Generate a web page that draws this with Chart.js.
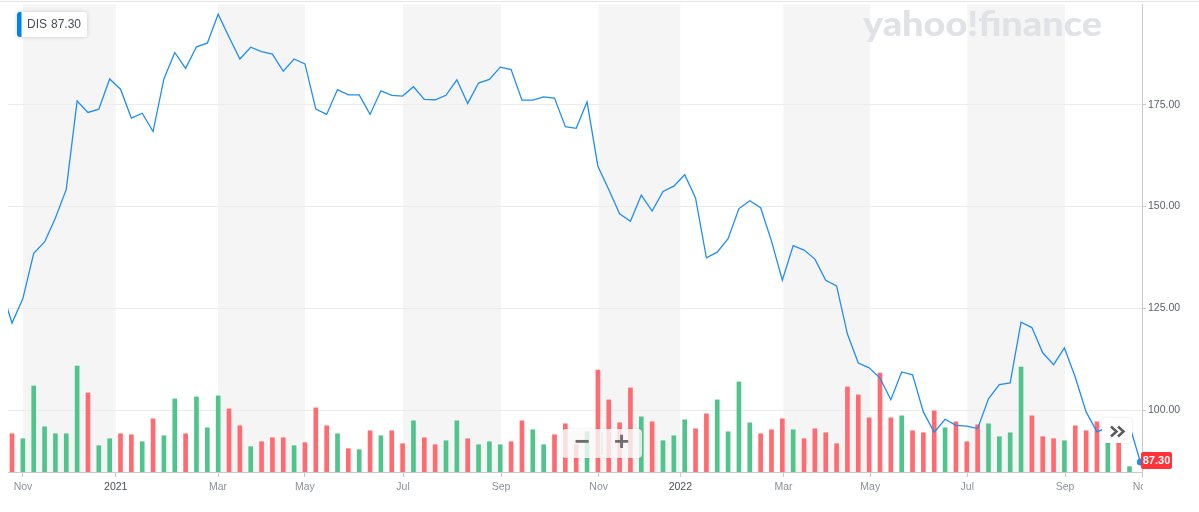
<!DOCTYPE html>
<html lang="en">
<head>
<meta charset="UTF-8">
<title>DIS weekly</title>
<script src="https://cdn.jsdelivr.net/npm/chart.js@4.4.1/dist/chart.umd.min.js"></script>
<style>
  body { margin: 0; background: #fff; }
  #chart { display: block; }
</style>
</head>
<body>
<canvas id="chart" width="1199" height="512"></canvas>
<script>
// weekly closes, Oct 2020 -> Oct 2022 (one point per week)
const closes = [
  129.9, 121.4, 127.4, 138.5, 141.3, 147.2, 154.2, 175.9, 173.1, 173.9,
  181.3, 178.8, 171.7, 172.9, 168.4, 181.3, 187.8, 183.9, 189.2, 190.1,
  197.2, 191.6, 186.2, 189.1, 188.0, 187.4, 183.2, 186.2, 185.0, 173.9,
  172.6, 178.7, 177.4, 177.4, 172.6, 178.4, 177.3, 177.1, 179.4, 176.3,
  176.2, 177.3, 181.1, 175.3, 180.3, 181.2, 184.2, 183.6, 176.1, 176.1,
  176.9, 176.6, 169.6, 169.2, 175.7, 159.9, 154.2, 148.2, 146.4, 152.8,
  148.9, 153.7, 155.0, 157.8, 152.1, 137.4, 138.8, 142.1, 149.5, 151.4,
  149.7, 141.5, 131.9, 140.4, 139.3, 137.1, 131.9, 130.5, 118.7, 111.6,
  110.4, 107.9, 102.6, 109.4, 108.7, 99.6, 94.6, 97.8, 96.3, 96.1,
  95.5, 102.8, 106.3, 106.7, 121.6, 120.3, 114.1, 111.2, 115.3, 108.1,
  99.6, 94.7, 95.8, 96.3, 96.3, 87.3
];
// weekly volume, millions
const volumes = [
  15.0, 19.2, 16.7, 43.2, 22.7, 19.2, 19.2, 53.2, 39.7, 13.2,
  16.7, 19.2, 18.7, 15.2, 26.7, 18.2, 36.7, 19.2, 37.7, 22.2,
  38.2, 31.7, 23.2, 12.7, 15.2, 17.2, 17.2, 13.2, 14.7, 32.2,
  23.2, 19.2, 11.7, 11.2, 20.7, 18.2, 20.7, 14.2, 25.7, 17.2,
  13.7, 15.7, 25.7, 16.7, 13.7, 15.2, 13.7, 15.2, 25.7, 21.2,
  13.7, 18.7, 24.2, 14.0, 20.2, 51.2, 36.2, 24.7, 42.2, 27.7,
  25.2, 15.7, 18.2, 26.2, 21.7, 29.2, 36.2, 20.2, 45.2, 24.7,
  19.2, 21.2, 26.7, 21.2, 16.7, 21.7, 19.7, 14.2, 42.7, 38.7,
  27.2, 49.7, 27.2, 28.2, 20.7, 19.7, 30.7, 22.2, 25.2, 15.2,
  23.7, 24.2, 17.7, 19.7, 52.7, 28.2, 17.7, 16.7, 15.7, 23.2,
  20.7, 25.2, 16.0, 15.5, 2.7, null
];
// u = up week (green), d = down week (red)
const volDir = ("d" + "duuuuuuduu" + "dduduuduuu" + "dduddduddd" + "udududdudd" +
  "uuduuudduu" + "ddduddddud" + "uuudduuuud" + "dduddddddd" + "dduddduddd" +
  "uuuudddudd" + "dudud").split("");

// month ticks, in week positions
const monthTicks  = [2.01, 10.56, 19.99, 28.0, 37.04, 46.07, 55.07, 62.6, 72.1, 80.1, 89.05, 98.06, 105.15];
const monthLabels = ["Nov", "2021", "Mar", "May", "Jul", "Sep", "Nov", "2022", "Mar", "May", "Jul", "Sep", "Nov"];
const priceTicks  = [100, 125, 150, 175];
const symbol = "DIS";
const lastPrice = 87.30;

const UP = "#4fc58b", DOWN = "#ff6b70", LINE = "#1e8ef2";
const FONT = "'Liberation Sans', Arial, sans-serif";

const weeks = closes.map((_, i) => i);

const decor = {
  id: "decor",
  beforeDraw(chart) {
    const c = chart.ctx, a = chart.chartArea, x = chart.scales.x;
    c.save();
    // top border
    c.fillStyle = "#e4e4e4";
    c.fillRect(0, 1, chart.width, 1);
    // alternating two-month bands
    c.fillStyle = "#f5f5f5";
    for (let k = 0; k + 1 < monthTicks.length; k += 2) {
      const x0 = x.getPixelForValue(monthTicks[k]);
      const x1 = x.getPixelForValue(monthTicks[k + 1]);
      c.fillRect(x0, a.top, x1 - x0, a.bottom - a.top);
    }
    // watermark
    c.font = "900 34px Lato, " + FONT;
    const w = c.measureText("yahoo!finance").width;
    c.translate(863, 36);
    c.scale(239 / w, 1);
    c.fillStyle = "#e0e2e6";
    c.textBaseline = "alphabetic";
    c.fillText("yahoo!finance", 0, 0);
    c.restore();
  },
  afterDraw(chart) {
    const c = chart.ctx;
    c.save();
    // clip the last month label at the axis edge
    c.fillStyle = "#fff";
    c.fillRect(1143, 478, 60, 34);

    // zoom buttons
    c.save();
    c.shadowColor = "rgba(0,0,0,0.12)";
    c.shadowBlur = 3;
    c.fillStyle = "rgba(255,255,255,0.8)";
    c.beginPath(); c.roundRect(562, 429, 80, 29, 4); c.fill();
    c.restore();
    c.fillStyle = "#e2e2e2";
    c.fillRect(601.5, 432, 1, 23);
    c.fillStyle = "#6e6e6e";
    c.font = "bold 26px " + FONT;
    c.textAlign = "center";
    c.textBaseline = "middle";
    c.fillText("\u2212", 582, 443);
    c.fillText("+", 621.5, 443);

    // ">>" button
    c.save();
    c.shadowColor = "rgba(0,0,0,0.12)";
    c.shadowBlur = 3;
    c.fillStyle = "#fff";
    c.beginPath(); c.roundRect(1102, 418, 30, 25, 4); c.fill();
    c.restore();
    c.strokeStyle = "#5a5a5a";
    c.lineWidth = 2.5;
    [1111, 1118].forEach(sx => {
      c.beginPath();
      c.moveTo(sx, 426.5); c.lineTo(sx + 5.5, 431.5); c.lineTo(sx, 436.5);
      c.stroke();
    });

    // last price tag
    const ly = chart.scales.y.getPixelForValue(lastPrice);
    c.fillStyle = "#ff333a";
    c.beginPath(); c.roundRect(1141, ly - 10, 31, 17, 2); c.fill();
    c.fillStyle = "#fff";
    c.font = "bold 11px " + FONT;
    c.textAlign = "center";
    c.fillText(lastPrice.toFixed(2), 1156.5, ly - 1.5);

    // symbol box
    c.save();
    c.shadowColor = "rgba(0,0,0,0.18)";
    c.shadowBlur = 4;
    c.fillStyle = "#fff";
    c.beginPath(); c.roundRect(17, 12, 70, 25, 3); c.fill();
    c.restore();
    c.fillStyle = "#0081f2";
    c.beginPath(); c.roundRect(17, 12, 4.5, 25, [3, 0, 0, 3]); c.fill();
    c.fillStyle = "#464e56";
    c.font = "12px " + FONT;
    c.textAlign = "left";
    c.textBaseline = "middle";
    c.fillText(symbol, 27, 25);
    c.fillText(lastPrice.toFixed(2), 51, 25);
    c.restore();
  }
};

const ctx = document.getElementById("chart").getContext("2d");
const chart = new Chart(ctx, {
  data: {
    datasets: [
      {
        type: "line",
        data: weeks.map((x, i) => ({ x: x, y: closes[i] })),
        borderColor: LINE,
        borderWidth: 1.3,
        tension: 0,
        pointRadius: c => c.dataIndex === closes.length - 1 ? 3.5 : 0,
        pointBackgroundColor: LINE,
        pointBorderWidth: 0,
        yAxisID: "y",
        order: 1
      },
      {
        type: "bar",
        data: weeks.map((x, i) => ({ x: x, y: volumes[i] })),
        backgroundColor: c => volDir[c.dataIndex] === "u" ? UP : DOWN,
        barThickness: 4,
        yAxisID: "vol",
        order: 2
      }
    ]
  },
  options: {
    responsive: false,
    animation: false,
    layout: { padding: { left: 8, top: 2 } },
    plugins: { legend: { display: false }, tooltip: { enabled: false } },
    scales: {
      x: {
        type: "linear",
        offset: false,
        min: 0.63,
        max: 105.15,
        afterBuildTicks: s => { s.ticks = monthTicks.map(v => ({ value: v })); },
        afterFit: s => { s.height = 40; s.paddingLeft = 0; s.paddingRight = 0; },
        ticks: {
          autoSkip: false,
          maxRotation: 0,
          padding: 4,
          callback: (v, i) => monthLabels[i],
          color: c => /^\d{4}$/.test(monthLabels[c.index]) ? "#4a4f55" : "#8d9297",
          font: { family: FONT, size: 10.5 }
        },
        grid: { offset: false, drawOnChartArea: false, tickLength: 5, tickColor: "#c8c8c8" },
        border: { color: "#c8c8c8" }
      },
      y: {
        position: "right",
        min: 84.85,
        max: 199.7,
        afterBuildTicks: s => { s.ticks = priceTicks.map(v => ({ value: v })); },
        afterFit: s => { s.width = 57; s.paddingTop = 0; s.paddingBottom = 0; },
        ticks: {
          padding: 2,
          color: "#5b636a",
          font: { family: FONT, size: 10.5 },
          callback: v => v.toFixed(2)
        },
        grid: { color: "#ececec", tickLength: 4, tickColor: "#c8c8c8" },
        border: { color: "#c8c8c8" }
      },
      vol: { display: false, min: 0, max: 235 }
    }
  },
  plugins: [decor]
});
</script>
</body>
</html>
